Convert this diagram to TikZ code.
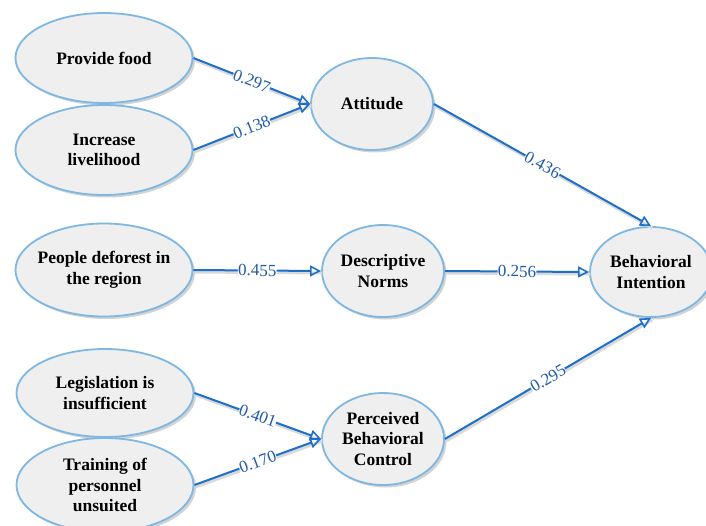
\documentclass[tikz,border=0pt]{standalone}
\usepackage{fontspec}
\setmainfont{Liberation Serif}
\usetikzlibrary{shapes.geometric,arrows.meta,shadows}
\definecolor{nodeborder}{HTML}{7DB7E2}
\definecolor{nodefill}{HTML}{EFEFEF}
\definecolor{edgeblue}{HTML}{1E6FC8}
\definecolor{labelblue}{HTML}{1F5AAA}
\tikzset{
  construct/.style={ellipse, draw=nodeborder, line width=1.8pt, fill=nodefill,
    inner xsep=-30pt, inner ysep=-15pt, align=center, font=\fontsize{17.5}{20.5}\selectfont\bfseries,
    drop shadow={opacity=0.35, shadow xshift=2.5pt, shadow yshift=-2.5pt}},
  path/.style={draw=edgeblue, line width=2pt,
    -{Triangle[open, length=11pt, width=11pt, line width=1.6pt]},
    preaction={draw=black!15, line width=3pt, -, transform canvas={shift={(1.2pt,-2pt)}}}},
  coef/.style={sloped, fill=white, inner sep=0.3pt, text=labelblue,
    font=\fontsize{17}{17}\selectfont},
}
\begin{document}
\begin{tikzpicture}[x=1pt, y=-1pt]
\useasboundingbox (0,0) rectangle (706,525);
\clip (0,0) rectangle (706,525);
\node[construct, minimum width=177pt, minimum height=90pt] (food) at (104,58) {Provide food};
\node[construct, minimum width=177pt, minimum height=90pt] (live) at (104,150) {Increase\\livelihood};
\node[construct, minimum width=177pt, minimum height=93pt] (people) at (104,270) {People deforest in\\the region};
\node[construct, minimum width=177pt, minimum height=88pt] (legis) at (105,393) {Legislation is\\insufficient};
\node[construct, minimum width=177pt, minimum height=94pt] (train) at (105,485) {Training of\\personnel\\unsuited};
\node[construct, minimum width=122pt, minimum height=92pt] (att) at (372,104) {Attitude};
\node[construct, minimum width=122pt, minimum height=92pt] (dn) at (383,271) {Descriptive\\Norms};
\node[construct, minimum width=122pt, minimum height=92pt] (pbc) at (383,439) {Perceived\\Behavioral\\Control};
\node[construct, minimum width=122pt, minimum height=90pt] (bi) at (651,272) {Behavioral\\Intention};

\draw[path] (food.east) -- node[coef] {0.297} (att.west);
\draw[path] (live.east) -- node[coef] {0.138} (att.west);
\draw[path] (att.east) -- node[coef] {0.436} (bi.north);
\draw[path] (people.east) -- node[coef] {0.455} (dn.west);
\draw[path] (dn.east) -- node[coef] {0.256} (bi.west);
\draw[path] (legis.east) -- node[coef] {0.401} (pbc.west);
\draw[path] (train.east) -- node[coef] {0.170} (pbc.west);
\draw[path] (pbc.east) -- node[coef] {0.295} (bi.south);
\end{tikzpicture}
\end{document}
